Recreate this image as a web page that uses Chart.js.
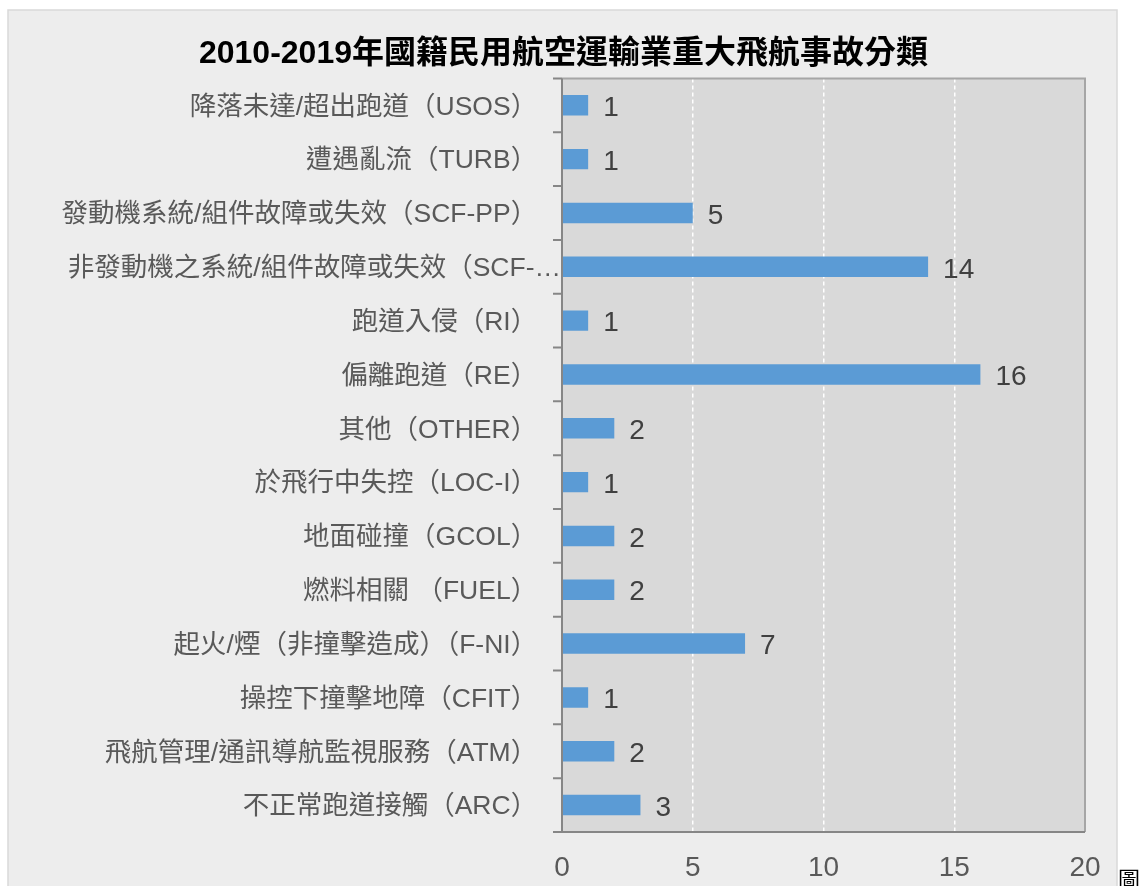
<!DOCTYPE html>
<html>
<head>
<meta charset="utf-8">
<script src="https://cdn.jsdelivr.net/npm/chart.js@4.4.1/dist/chart.umd.min.js"></script>
<style>
  html, body { margin: 0; padding: 0; background: #ffffff; overflow: hidden; }
  #wrap { position: relative; width: 1139px; height: 886px; }
  #c { position: absolute; left: 0; top: 0; }
  #fig { position: absolute; left: 1118px; top: 866px; font-family: 'Noto Sans CJK TC', serif; font-size: 22px; line-height: 1; color: #000; }
</style>
</head>
<body>
<div id="wrap">
  <canvas id="c" width="1139" height="886"></canvas>
  <span id="fig">圖</span>
</div>
<script>
const chartTitle = '2010-2019年國籍民用航空運輸業重大飛航事故分類';
const categories = [
  '降落未達/超出跑道（USOS）',
  '遭遇亂流（TURB）',
  '發動機系統/組件故障或失效（SCF-PP）',
  '非發動機之系統/組件故障或失效（SCF-…',
  '跑道入侵（RI）',
  '偏離跑道（RE）',
  '其他（OTHER）',
  '於飛行中失控（LOC-I）',
  '地面碰撞（GCOL）',
  '燃料相關 （FUEL）',
  '起火/煙（非撞擊造成）（F-NI）',
  '操控下撞擊地障（CFIT）',
  '飛航管理/通訊導航監視服務（ATM）',
  '不正常跑道接觸（ARC）'
];
const counts = [1, 1, 5, 14, 1, 16, 2, 1, 2, 2, 7, 1, 2, 3];
const xTickValues = [0, 5, 10, 15, 20];

const FONT = "'Liberation Sans', 'Noto Sans CJK TC', Arial, sans-serif";

const framePlugin = {
  id: 'frame',
  beforeDraw(chart) {
    const ctx = chart.ctx;
    const a = chart.chartArea;
    ctx.save();
    ctx.fillStyle = '#ffffff';
    ctx.fillRect(0, 0, chart.width, chart.height);
    ctx.fillStyle = '#ededed';
    ctx.fillRect(8, 10, 1109, 900);
    ctx.strokeStyle = '#d9d9d9';
    ctx.lineWidth = 1.5;
    ctx.strokeRect(8, 10, 1109, 900);
    ctx.fillStyle = '#d9d9d9';
    ctx.fillRect(a.left, a.top, a.right - a.left, a.bottom - a.top);
    ctx.restore();
  },
  afterDatasetsDraw(chart) {
    const ctx = chart.ctx;
    const a = chart.chartArea;
    ctx.save();
    ctx.strokeStyle = '#a6a6a6';
    ctx.lineWidth = 2;
    ctx.beginPath();
    ctx.moveTo(a.left, a.top);
    ctx.lineTo(a.right, a.top);
    ctx.lineTo(a.right, a.bottom);
    ctx.stroke();
    ctx.strokeStyle = '#868686';
    ctx.beginPath();
    ctx.moveTo(a.left, a.top);
    ctx.lineTo(a.left, a.bottom);
    ctx.lineTo(a.right, a.bottom);
    ctx.stroke();
    const n = categories.length;
    const band = (a.bottom - a.top) / n;
    ctx.beginPath();
    for (let i = 0; i <= n; i++) {
      const y = a.top + i * band;
      ctx.moveTo(a.left - 9, y);
      ctx.lineTo(a.left, y);
    }
    ctx.stroke();
    const meta = chart.getDatasetMeta(0);
    ctx.fillStyle = '#404040';
    ctx.font = '28px ' + FONT;
    ctx.textAlign = 'left';
    ctx.textBaseline = 'middle';
    meta.data.forEach((bar, i) => {
      ctx.fillText(String(counts[i]), bar.x + 15, bar.y + 3);
    });
    ctx.restore();
  }
};

new Chart(document.getElementById('c'), {
  type: 'bar',
  data: {
    labels: categories,
    datasets: [{
      data: counts,
      backgroundColor: '#5b9bd5',
      borderWidth: 0,
      barPercentage: 0.38,
      categoryPercentage: 1.0
    }]
  },
  options: {
    indexAxis: 'y',
    responsive: false,
    animation: false,
    devicePixelRatio: 1,
    layout: { padding: { top: 0, right: 54, bottom: 0, left: 42 } },
    plugins: {
      legend: { display: false },
      tooltip: { enabled: false },
      title: {
        display: true,
        text: chartTitle,
        color: '#000000',
        font: { family: FONT, size: 32, weight: 'bold', lineHeight: 1.2 },
        padding: { top: 35, bottom: 5 }
      }
    },
    scales: {
      x: {
        min: xTickValues[0],
        max: xTickValues[xTickValues.length - 1],
        afterBuildTicks(scale) { scale.ticks = xTickValues.map(v => ({ value: v })); },
        afterFit(scale) { scale.height = 54; },
        grid: {
          drawTicks: false,
          lineWidth: 1.5,
          color: (c) => (c.tick && (c.tick.value === xTickValues[0] || c.tick.value === xTickValues[xTickValues.length - 1])) ? 'rgba(0,0,0,0)' : '#ffffff'
        },
        border: { display: false, dash: [4, 3] },
        ticks: {
          padding: 19,
          color: '#595959',
          font: { family: FONT, size: 28 }
        }
      },
      y: {
        afterFit(scale) { scale.width = 520; },
        grid: { display: true, drawOnChartArea: false, drawTicks: false },
        border: { display: false },
        ticks: {
          padding: 1,
          labelOffset: 2,
          autoSkip: false,
          color: '#595959',
          font: { family: FONT, size: 26.5 },
          callback(value, index) {
            const label = categories[index];
            return label.endsWith('）') ? label + '\u3000\u2009\u2009' : label;
          }
        }
      }
    }
  },
  plugins: [framePlugin]
});
</script>
</body>
</html>
